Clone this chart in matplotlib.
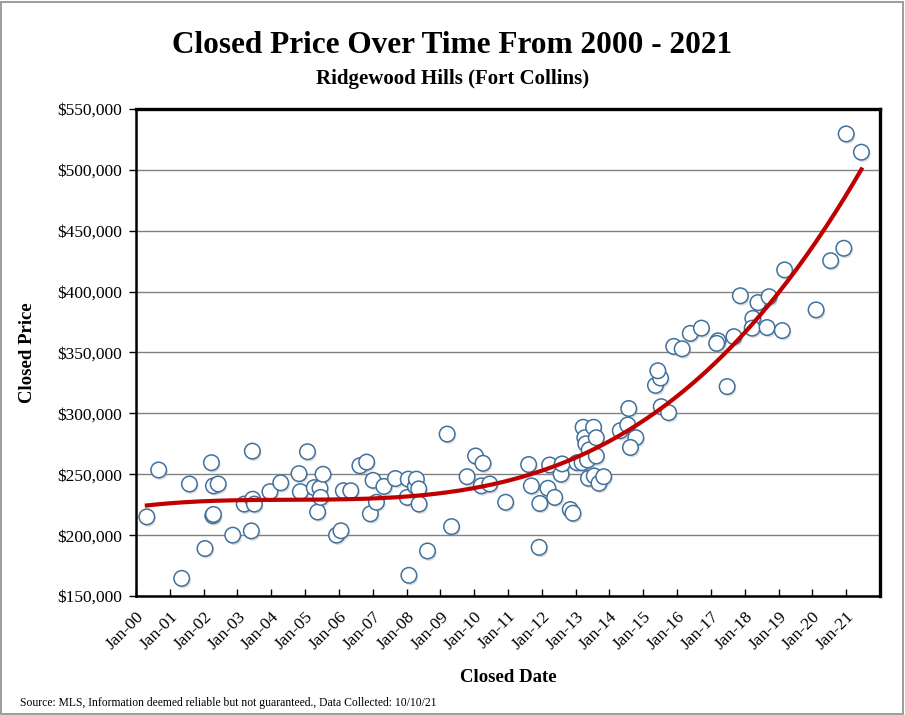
import numpy as np
import matplotlib
matplotlib.use("Agg")
import matplotlib.pyplot as plt
import matplotlib.patheffects as pe
from matplotlib.patches import Rectangle
from matplotlib.ticker import FuncFormatter

plt.rcParams['font.family'] = ['Liberation Serif', 'DejaVu Serif']

# closed date as decimal year, closed price in $
closed_date = [2000.32, 2000.67, 2001.35, 2001.58, 2002.04, 2002.23, 2002.27, 2002.29,
               2002.29, 2002.43, 2002.86, 2003.20, 2003.41, 2003.44, 2003.45, 2003.50,
               2003.96, 2004.28, 2004.82, 2004.86, 2005.07, 2005.27, 2005.37, 2005.44,
               2005.46, 2005.53, 2005.93, 2006.06, 2006.13, 2006.35, 2006.62, 2006.82,
               2006.93, 2007.01, 2007.11, 2007.33, 2007.67, 2008.02, 2008.05, 2008.07,
               2008.26, 2008.29, 2008.36, 2008.37, 2008.62, 2009.20, 2009.33, 2009.79,
               2010.04, 2010.21, 2010.26, 2010.46, 2010.93, 2011.61, 2011.69, 2011.92,
               2011.94, 2012.18, 2012.23, 2012.38, 2012.57, 2012.60, 2012.84, 2012.92,
               2013.04, 2013.22, 2013.27, 2013.30, 2013.40, 2013.19, 2013.35, 2013.38,
               2013.55, 2013.53, 2013.61, 2013.61, 2013.69, 2013.83, 2014.32, 2014.57,
               2014.54, 2014.78, 2014.62, 2015.36, 2015.51, 2015.43, 2015.53, 2015.75,
               2015.90, 2016.15, 2016.39, 2016.72, 2017.21, 2017.17, 2017.68, 2017.48,
               2017.87, 2018.24, 2018.22, 2018.39, 2018.66, 2018.72, 2019.11, 2019.18,
               2020.11, 2020.54, 2020.93, 2021.00, 2021.45]
closed_price = [215000, 253500, 164500, 242000, 189000, 259500, 216000, 217000,
                240500, 242000, 200000, 225500, 203500, 269000, 229500, 225500,
                235700, 243000, 250500, 235700, 268500, 239000, 219000, 238500,
                231000, 250000, 200000, 203600, 236500, 236500, 257000, 260000,
                217500, 245000, 227000, 240000, 246500, 231000, 246000, 167000,
                240000, 246000, 238000, 225500, 187000, 283000, 207000, 248000,
                265000, 240500, 259000, 242000, 227000, 258000, 240500, 190000,
                226000, 238500, 257600, 231000, 250000, 258500, 221000, 218000,
                259500, 288600, 280000, 275000, 270000, 259500, 261700, 246700,
                248600, 288600, 280000, 265000, 242600, 248000, 285800, 304000,
                290500, 280000, 272000, 323000, 329000, 335000, 305500, 300600,
                355000, 353000, 365700, 370000, 359600, 357500, 363000, 322000,
                396600, 378000, 370000, 391000, 370500, 395800, 368000, 417800,
                385000, 425400, 435600, 529500, 514500]

year_ticks = list(range(2000, 2022))
year_labels = ["Jan-%02d" % (y % 100) for y in year_ticks]
price_ticks = list(range(150000, 550001, 50000))

x = np.array(closed_date)
y = np.array(closed_price)

fig = plt.figure(figsize=(9.05, 7.15), dpi=100)
fig.patches.append(Rectangle((0.001, 0.001), 0.997, 0.996, transform=fig.transFigure,
                             fill=False, edgecolor='#8c8c8c', linewidth=1.2))
ax = fig.add_axes([0.1503, 0.1664, 0.8221, 0.6812])

ax.set_xlim(2000, 2022)
ax.set_ylim(150000, 550000)
ax.set_yticks(price_ticks)
ax.yaxis.set_major_formatter(FuncFormatter(lambda v, p: "${:,.0f}".format(v)))
ax.set_xticks(year_ticks)
ax.set_xticklabels(year_labels, rotation=45, ha='right', rotation_mode='anchor')
ax.tick_params(axis='x', direction='in', length=5, width=1, labelsize=12.5, pad=9)
ax.tick_params(axis='y', direction='out', length=5, width=1, labelsize=12.5, pad=5)
ax.grid(axis='y', color='#808080', linewidth=1)
ax.set_axisbelow(True)

for side in ['top', 'right']:
    ax.spines[side].set_linewidth(2.4)
for side in ['left', 'bottom']:
    ax.spines[side].set_linewidth(1.8)

sc = ax.scatter(x, y, s=125, facecolor='white', edgecolor='#41719C', linewidth=1.1, zorder=3)
sc.set_path_effects([pe.SimplePatchShadow(offset=(1, -1.5), shadow_rgbFace='#999999', alpha=0.35),
                     pe.Normal()])

# polynomial trendline like the Excel one
coef = np.polyfit(x - 2000, y, 3)
tx = np.linspace(x.min(), x.max(), 300)
ax.plot(tx, np.polyval(coef, tx - 2000), color='#C00000', linewidth=3, zorder=4)

ax.set_xlabel("Closed Date", fontsize=13.5, fontweight='bold', labelpad=12)
ax.set_ylabel("Closed Price", fontsize=13.5, fontweight='bold', labelpad=15)

fig.text(0.5, 0.937, "Closed Price Over Time From 2000 - 2021", ha='center', va='center',
         fontsize=22.5, fontweight='bold')
fig.text(0.5, 0.889, "Ridgewood Hills (Fort Collins)", ha='center', va='center',
         fontsize=15, fontweight='bold')
fig.text(0.022, 0.017, "Source: MLS, Information deemed reliable but not guaranteed., Data Collected: 10/10/21",
         ha='left', va='center', fontsize=8.4)

fig.savefig("out.png", dpi=100)
